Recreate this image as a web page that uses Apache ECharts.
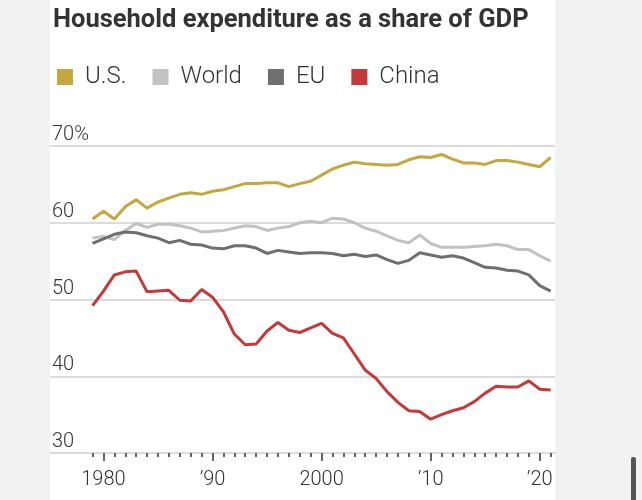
<!DOCTYPE html>
<html>
<head>
<meta charset="utf-8">
<script src="https://cdn.jsdelivr.net/npm/echarts@6/dist/echarts.min.js"></script>
<style>
html,body{margin:0;padding:0;}
#chart{width:642px;height:500px;background:linear-gradient(to right,#f2f2f2 0px,#f2f2f2 50px,#ffffff 50px,#ffffff 555px,#f2f2f2 555px,#f2f2f2 642px);}
</style>
</head>
<body>
<div id="chart"></div>
<script>
const years = [1979,1980,1981,1982,1983,1984,1985,1986,1987,1988,1989,1990,1991,1992,1993,1994,1995,1996,1997,1998,1999,2000,2001,2002,2003,2004,2005,2006,2007,2008,2009,2010,2011,2012,2013,2014,2015,2016,2017,2018,2019,2020,2021];
const usData = [60.5,61.5,60.5,62.1,63.0,61.9,62.7,63.2,63.7,63.9,63.7,64.1,64.3,64.7,65.1,65.1,65.2,65.2,64.7,65.1,65.4,66.2,67.0,67.5,67.9,67.7,67.6,67.5,67.6,68.2,68.6,68.5,68.9,68.3,67.8,67.8,67.6,68.1,68.1,67.9,67.6,67.3,68.5];
const worldData = [58.0,58.2,57.8,59.0,59.9,59.4,59.8,59.8,59.6,59.3,58.8,58.9,59.0,59.3,59.6,59.5,59.0,59.3,59.5,60.0,60.2,60.0,60.6,60.5,60.0,59.3,58.9,58.3,57.7,57.4,58.4,57.3,56.8,56.8,56.8,56.9,57.0,57.2,57.0,56.5,56.5,55.7,55.0];
const euData = [57.3,57.9,58.5,58.8,58.7,58.3,58.0,57.4,57.7,57.2,57.1,56.7,56.6,57.0,57.0,56.7,56.0,56.4,56.2,56.0,56.1,56.1,56.0,55.7,55.9,55.6,55.8,55.2,54.7,55.1,56.1,55.8,55.5,55.7,55.4,54.8,54.2,54.1,53.8,53.7,53.2,51.8,51.1];
const chinaData = [49.2,51.1,53.2,53.6,53.7,51.0,51.1,51.2,49.9,49.8,51.3,50.3,48.4,45.5,44.1,44.2,45.9,47.0,46.0,45.7,46.3,46.9,45.6,45.0,42.9,40.8,39.7,38.0,36.6,35.5,35.4,34.4,35.0,35.5,35.9,36.7,37.8,38.7,38.6,38.6,39.4,38.3,38.2];
const seriesNames = ['U.S.','World','EU','China'];
const seriesColors = ['#c4a83e','#c2c2c2','#6f6f6f','#c5393b'];
const yTicks = [30,40,50,60,70];
const xLabelYears = [1980,1990,2000,2010,2020];
const xLabelTexts = ['1980','\u201990','2000','\u201910','\u201920'];
const titleText = 'Household expenditure as a share of GDP';

const FONT = "'Liberation Sans Narrow', Roboto, 'Noto Sans', sans-serif";
const allSeries = [usData, worldData, euData, chinaData];
const chart = echarts.init(document.getElementById('chart'), null, {renderer:'canvas'});
const xMin = 1975.1, xMax = 2021.4;
chart.setOption({
  animation:false,
  backgroundColor:'transparent',
  title:{text:titleText,left:48,top:3,textStyle:{fontFamily:FONT,fontSize:25.5,fontWeight:'bold',color:'#333'}},
  legend:{
    left:52, top:60, icon:'rect', itemWidth:16, itemHeight:16, itemGap:26,
    data:seriesNames,
    textStyle:{fontFamily:FONT,fontSize:24,fontWeight:300,color:'#333',padding:[0,0,0,7]}
  },
  grid:{left:50,right:87,top:146,bottom:47,containLabel:false},
  xAxis:[
    {type:'value',min:xMin,max:xMax,
     axisLine:{show:true,lineStyle:{color:'#dcdcdc',width:2}},
     axisTick:{show:true,customValues:years,length:4,lineStyle:{color:'#333',width:1.5}},
     axisLabel:{show:false},splitLine:{show:false}},
    {type:'value',min:xMin,max:xMax,position:'bottom',
     axisLine:{show:false},
     axisTick:{show:true,customValues:xLabelYears,length:8,lineStyle:{color:'#333',width:1.5}},
     axisLabel:{show:true,customValues:xLabelYears,margin:17,fontFamily:FONT,fontSize:20,fontWeight:300,color:'#333',
       formatter:function(v){const i=xLabelYears.indexOf(Math.round(v));return i>=0?xLabelTexts[i]:'';}},
     splitLine:{show:false}}
  ],
  yAxis:{type:'value',min:30,max:70,interval:10,
    axisLine:{show:false},axisTick:{show:false},
    splitLine:{show:true,lineStyle:{color:'#dcdcdc',width:2}},
    axisLabel:{inside:true,margin:2,verticalAlign:'bottom',padding:[0,0,1,0],fontFamily:FONT,fontSize:20,fontWeight:300,color:'#333',
      formatter:function(v){return v===70?'70%':String(v);}}
  },
  graphic:[{type:'rect',shape:{x:631,y:457,width:5,height:50,r:2},style:{fill:'#555'}}],
  series:allSeries.map(function(d,k){
    return {name:seriesNames[k],type:'line',xAxisIndex:0,yAxisIndex:0,
      data:years.map(function(y,i){return [y,d[i]];}),
      showSymbol:false,symbol:'none',
      lineStyle:{color:seriesColors[k],width:3},itemStyle:{color:seriesColors[k]},
      emphasis:{disabled:true}};
  })
});
</script>
</body>
</html>
